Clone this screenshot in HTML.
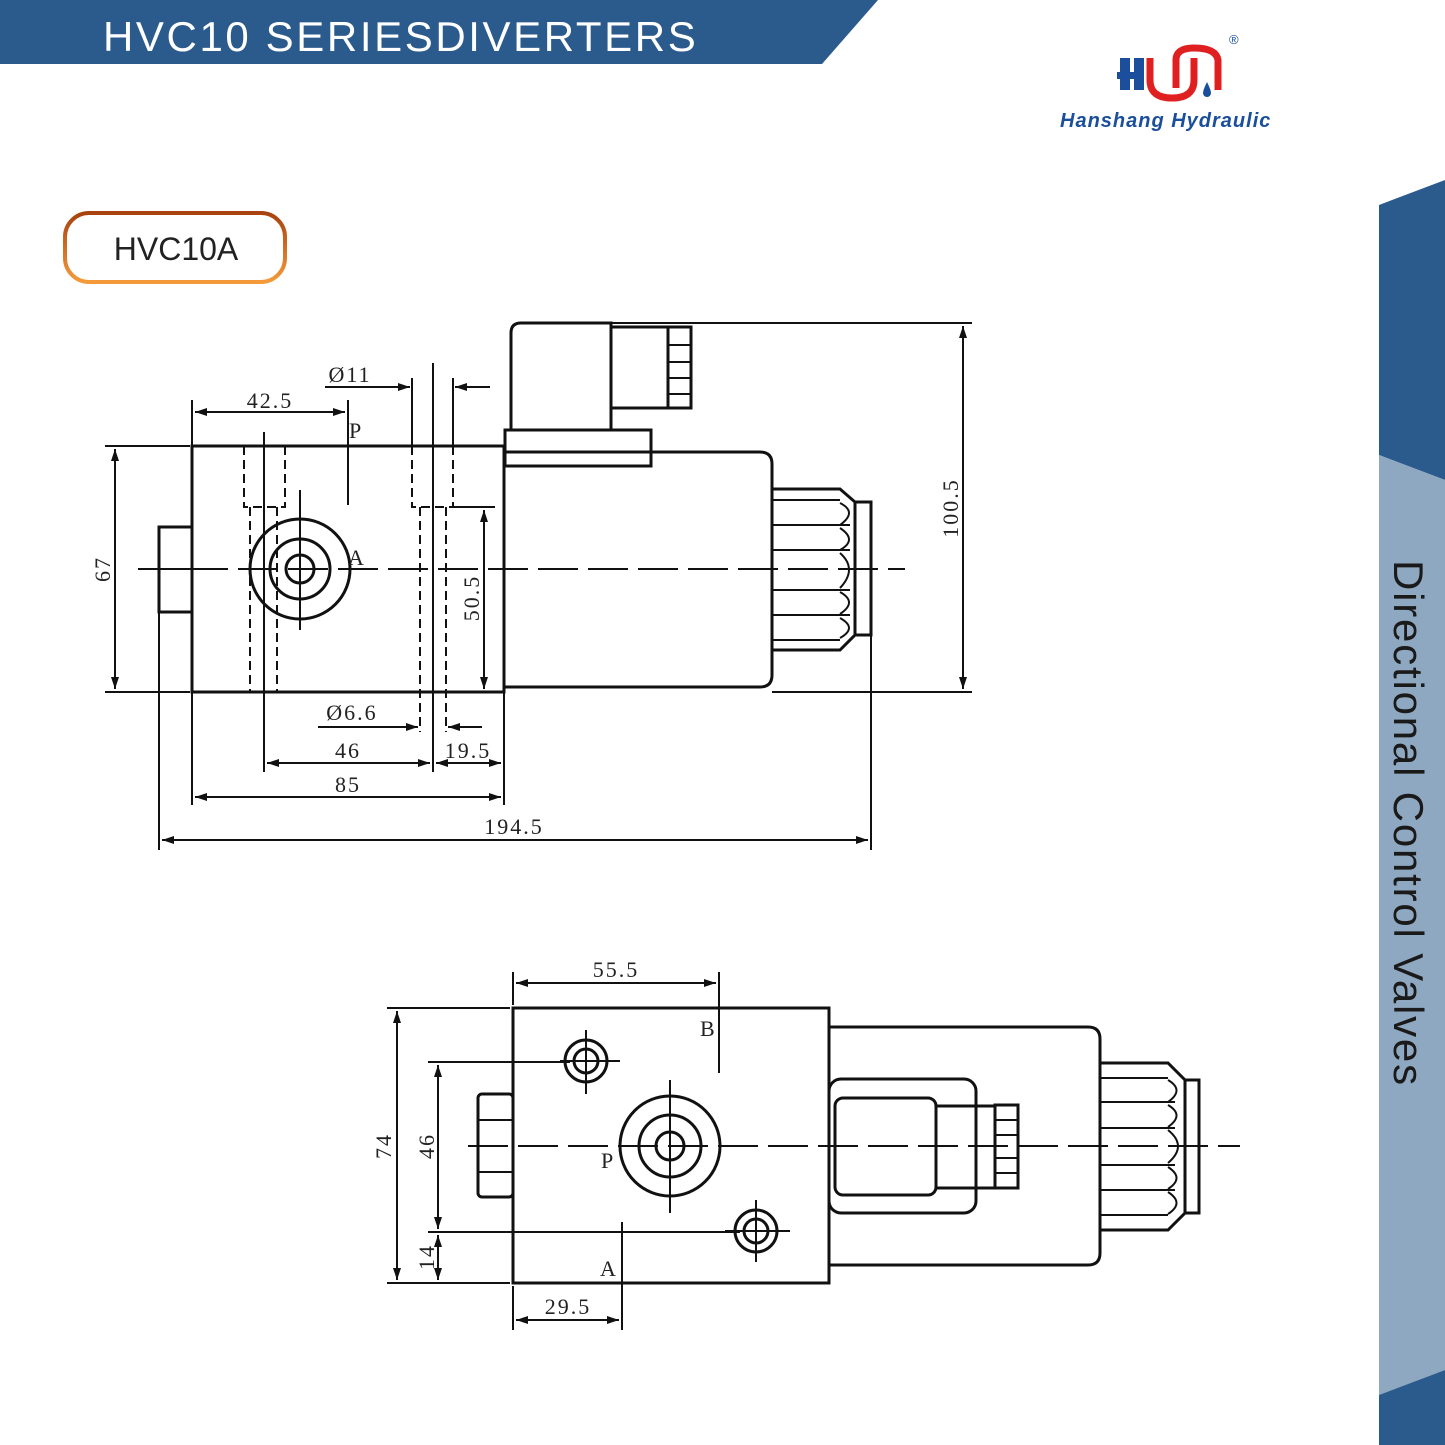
<!DOCTYPE html>
<html><head><meta charset="utf-8"><style>
html,body{margin:0;padding:0;background:#fff}
svg{display:block}
.d{font-family:"Liberation Serif",serif;font-size:22px;fill:#222;letter-spacing:2px}
</style></head><body>
<svg width="1445" height="1445" viewBox="0 0 1445 1445" xmlns="http://www.w3.org/2000/svg">
<defs>
<marker id="a" viewBox="0 0 12 8" refX="12" refY="4" markerWidth="12" markerHeight="8" orient="auto-start-reverse" markerUnits="userSpaceOnUse"><path d="M0,0 L12,4 L0,8 Z" fill="#111"/></marker>
<linearGradient id="og" x1="0" y1="0" x2="0" y2="1"><stop offset="0" stop-color="#a8420e"/><stop offset="1" stop-color="#f59a3a"/></linearGradient>
</defs>
<polygon points="0,0 878,0 822,64 0,64" fill="#2b5a8c"/>
<text x="103" y="51" font-family="Liberation Sans,sans-serif" font-size="42" fill="#fff" letter-spacing="2.6">HVC10 SERIESDIVERTERS</text>
<g>
<path d="M1120,58 h10 v32 h-10z M1117,72 h24 v7 h-24z M1134,58 h10 v32 h-10z" fill="#1b4f9c"/>
<path d="M1150,58 v22 q0,18 22,18 q22,0 22,-18 v-22" fill="none" stroke="#e02020" stroke-width="7"/>
<path d="M1176,88 v-28 q0,-12 18,-12 q22,0 24,12 v30" fill="none" stroke="#e02020" stroke-width="7"/>
<path d="M1207,82 q4,8 4,11 a4,4 0 0 1 -8,0 q0,-3 4,-11z" fill="#1b4f9c"/>
<text x="1229" y="44" font-family="Liberation Sans,sans-serif" font-size="13" fill="#1b4f9c">®</text>
<text x="1060" y="127" font-family="Liberation Sans,sans-serif" font-size="20" font-weight="bold" font-style="italic" fill="#1b4f9c" letter-spacing="1">Hanshang Hydraulic</text>
</g>
<polygon points="1379,205 1445,180 1445,480 1379,455" fill="#2b5a8c"/>
<polygon points="1379,455 1445,480 1445,1370 1379,1395" fill="#8fa8c1"/>
<polygon points="1379,1395 1445,1370 1445,1445 1379,1445" fill="#2b5a8c"/>
<text transform="translate(1394,560) rotate(90)" font-family="Liberation Sans,sans-serif" font-size="42" fill="#1a1a1a" letter-spacing="1.8">Directional Control Valves</text>
<rect x="65" y="213" width="220" height="69" rx="24" fill="#fff" stroke="url(#og)" stroke-width="4"/>
<text x="176" y="260" text-anchor="middle" font-family="Liberation Sans,sans-serif" font-size="32" fill="#222">HVC10A</text>

<g fill="none" stroke="#111" stroke-width="3">
<rect x="192" y="446" width="312" height="246"/>
<path d="M504,452 H760 Q772,452 772,464 V675 Q772,687 760,687 H504"/>
<rect x="505" y="430" width="146" height="36"/>
<path d="M511,430 V333 Q511,323 521,323 H611 V430"/>
<rect x="611" y="327" width="57" height="81"/>
<rect x="668" y="327" width="23" height="81"/>
<path d="M772,489 H840 L855,502 V635 L840,650 H772"/>
<rect x="855" y="502" width="16" height="133"/>
<rect x="159" y="527" width="33" height="85"/>
<circle cx="300" cy="569" r="50"/>
<circle cx="300" cy="569" r="30"/>
<circle cx="300" cy="569" r="14"/>
</g>
<g stroke="#111" stroke-width="2" fill="none">
<path d="M159,569 H192"/>
<path d="M668,345 H691 M668,362 H691 M668,378 H691 M668,394 H691"/>
<path d="M772,500 H840 M772,525 H850 M772,550 H850 M772,590 H850 M772,615 H850 M772,640 H840"/>
<path d="M840,503 Q858,512 840,525 M840,528 Q858,540 840,550 M840,553 Q858,569 840,588 M840,592 Q858,602 840,614 M840,618 Q858,628 840,638"/>
<path d="M244,446 V507 H285 V446 M412,432 V507 H453 V432 M250,507 V692 M277,507 V692 M420,507 V732 M446,507 V732" stroke-dasharray="9,5"/>
<path d="M138,569 H905" stroke-dasharray="40,10"/>
<path d="M264,432 V705 M433,363 V772 M300,490 V630"/>
<path d="M105,446 H190 M105,692 H190"/>
<line x1="115" y1="449" x2="115" y2="689" marker-start="url(#a)" marker-end="url(#a)"/>
<path d="M611,323 H972 M772,692 H972"/>
<line x1="963" y1="326" x2="963" y2="689" marker-start="url(#a)" marker-end="url(#a)"/>
<path d="M453,507 H495"/>
<line x1="484" y1="510" x2="484" y2="689" marker-start="url(#a)" marker-end="url(#a)"/>
<path d="M192,400 V446 M348,400 V505"/>
<line x1="195" y1="412" x2="345" y2="412" marker-start="url(#a)" marker-end="url(#a)"/>
<path d="M412,378 V446 M453,378 V446"/>
<line x1="325" y1="387" x2="410" y2="387" marker-end="url(#a)"/>
<line x1="490" y1="387" x2="455" y2="387" marker-end="url(#a)"/>
<line x1="318" y1="727" x2="418" y2="727" marker-end="url(#a)"/>
<line x1="482" y1="727" x2="448" y2="727" marker-end="url(#a)"/>
<path d="M159,612 V850 M192,692 V805 M504,692 V805 M871,635 V850 M264,692 V772 M433,692 V772"/>
<line x1="267" y1="763" x2="430" y2="763" marker-start="url(#a)" marker-end="url(#a)"/>
<line x1="436" y1="763" x2="501" y2="763" marker-start="url(#a)" marker-end="url(#a)"/>
<line x1="195" y1="797" x2="501" y2="797" marker-start="url(#a)" marker-end="url(#a)"/>
<line x1="162" y1="840" x2="868" y2="840" marker-start="url(#a)" marker-end="url(#a)"/>
</g>
<text class="d" x="270" y="408" text-anchor="middle">42.5</text>
<text class="d" x="350" y="382" text-anchor="middle">Ø11</text>
<text class="d" x="349" y="438">P</text>
<text class="d" x="348" y="565">A</text>
<text class="d" x="352" y="720" text-anchor="middle">Ø6.6</text>
<text class="d" x="348" y="758" text-anchor="middle">46</text>
<text class="d" x="468" y="758" text-anchor="middle">19.5</text>
<text class="d" x="348" y="792" text-anchor="middle">85</text>
<text class="d" x="514" y="834" text-anchor="middle">194.5</text>
<text class="d" transform="translate(110,569) rotate(-90)" text-anchor="middle">67</text>
<text class="d" transform="translate(958,508) rotate(-90)" text-anchor="middle">100.5</text>
<text class="d" transform="translate(479,598) rotate(-90)" text-anchor="middle">50.5</text>

<g fill="none" stroke="#111" stroke-width="3">
<rect x="513" y="1008" width="316" height="275"/>
<path d="M829,1027 H1088 Q1100,1027 1100,1039 V1253 Q1100,1265 1088,1265 H829"/>
<rect x="829" y="1079" width="147" height="134" rx="12"/>
<rect x="835" y="1098" width="101" height="97" rx="8"/>
<rect x="936" y="1106" width="59" height="82"/>
<rect x="995" y="1105" width="23" height="83"/>
<path d="M1100,1063 H1168 L1185,1080 V1213 L1168,1230 H1100"/>
<rect x="1185" y="1080" width="14" height="133"/>
<rect x="478" y="1094" width="35" height="103" rx="4"/>
<circle cx="670" cy="1146" r="50"/>
<circle cx="670" cy="1146" r="31"/>
<circle cx="670" cy="1146" r="14"/>
<circle cx="586" cy="1061" r="21"/>
<circle cx="586" cy="1061" r="12"/>
<circle cx="756" cy="1231" r="21"/>
<circle cx="756" cy="1231" r="12"/>
</g>
<g stroke="#111" stroke-width="2" fill="none">
<path d="M478,1120 H513 M478,1172 H513"/>
<path d="M995,1120 H1018 M995,1135 H1018 M995,1158 H1018 M995,1173 H1018"/>
<path d="M1100,1078 H1168 M1100,1102 H1175 M1100,1128 H1175 M1100,1165 H1175 M1100,1190 H1175 M1100,1215 H1168"/>
<path d="M1168,1080 Q1185,1090 1168,1102 M1168,1105 Q1185,1115 1168,1127 M1168,1130 Q1188,1146 1168,1163 M1168,1167 Q1185,1178 1168,1189 M1168,1192 Q1185,1203 1168,1214"/>
<path d="M468,1146 H1240" stroke-dasharray="40,10"/>
<path d="M670,1080 V1213 M586,1030 V1094 M560,1061 H620 M756,1200 V1262 M725,1231 H790"/>
<path d="M387,1008 H510 M387,1283 H510 M428,1062 H570 M428,1232 H740"/>
<line x1="397" y1="1011" x2="397" y2="1280" marker-start="url(#a)" marker-end="url(#a)"/>
<line x1="438" y1="1065" x2="438" y2="1229" marker-start="url(#a)" marker-end="url(#a)"/>
<line x1="438" y1="1235" x2="438" y2="1280" marker-start="url(#a)" marker-end="url(#a)"/>
<path d="M513,972 V1005 M513,1286 V1330 M719,972 V1073 M622,1222 V1330"/>
<line x1="516" y1="983" x2="716" y2="983" marker-start="url(#a)" marker-end="url(#a)"/>
<line x1="516" y1="1320" x2="619" y2="1320" marker-start="url(#a)" marker-end="url(#a)"/>
</g>
<text class="d" x="616" y="977" text-anchor="middle">55.5</text>
<text class="d" x="568" y="1314" text-anchor="middle">29.5</text>
<text class="d" x="700" y="1036">B</text>
<text class="d" x="600" y="1276">A</text>
<text class="d" x="601" y="1168">P</text>
<text class="d" transform="translate(391,1146) rotate(-90)" text-anchor="middle">74</text>
<text class="d" transform="translate(434,1146) rotate(-90)" text-anchor="middle">46</text>
<text class="d" transform="translate(434,1257) rotate(-90)" text-anchor="middle">14</text>
</svg>
</body></html>
